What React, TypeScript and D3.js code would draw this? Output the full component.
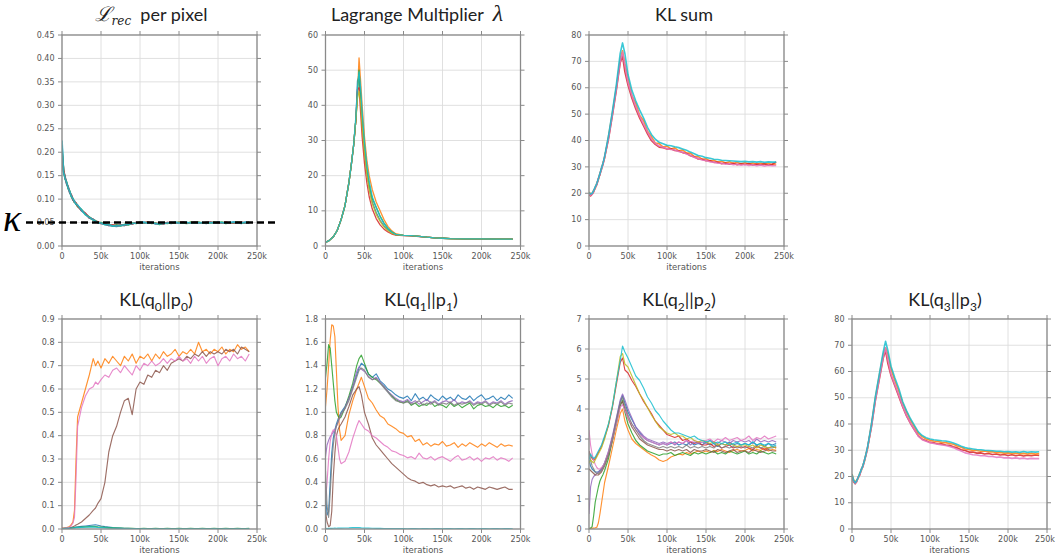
import React from 'react';
import * as d3 from 'd3';

// matplotlib default cycle
const COL = {
  blue: '#1f77b4', orange: '#ff7f0e', green: '#2ca02c', red: '#d62728', purple: '#9467bd',
  brown: '#8c564b', pink: '#e377c2', gray: '#7f7f7f', olive: '#bcbd22', cyan: '#17becf',
};

// iterations in thousands, shared by the noisy panels
const iters = [0, 2, 4, 6, 8, 10, 12, 14, 16, 18, 20,
  25, 30, 35, 40, 43, 46,
  50, 55, 60, 65, 70, 75, 80, 85, 90, 95,
  100, 105, 110, 115, 120, 125, 130, 135, 140, 145,
  150, 155, 160, 165, 170, 175, 180, 185, 190, 195,
  200, 205, 210, 215, 220, 225, 230, 235, 240];

// lagrange multiplier is smooth, own sampling
const lambdaIters = [0, 5, 10, 15, 20, 25, 30, 33, 36, 39, 41, 43, 45, 47, 50, 53, 56, 60, 65, 70, 75, 80, 85, 90,
  100, 110, 120, 130, 140, 150, 160, 180, 200, 220, 240];

const xTicks = [0, 50, 100, 150, 200, 250];
const xTickLabels = ['0', '50k', '100k', '150k', '200k', '250k'];

// ---- L_rec per pixel
const recBlue = [0.215, 0.158, 0.147, 0.132, 0.126, 0.113, 0.108, 0.098, 0.096, 0.089, 0.087,
  0.075, 0.069, 0.060, 0.057, 0.052, 0.050,
  0.048, 0.046, 0.044, 0.043, 0.042, 0.044, 0.044, 0.047, 0.047, 0.050,
  0.049, 0.051, 0.049, 0.050, 0.047, 0.048, 0.047, 0.050, 0.048, 0.051,
  0.049, 0.051, 0.050, 0.049, 0.051, 0.049, 0.050, 0.048, 0.051, 0.049,
  0.051, 0.049, 0.050, 0.049, 0.051, 0.050, 0.048, 0.051, 0.049];
const recGreen = [0.205, 0.162, 0.143, 0.136, 0.122, 0.117, 0.105, 0.101, 0.093, 0.091, 0.084,
  0.078, 0.067, 0.062, 0.055, 0.054, 0.050,
  0.050, 0.046, 0.046, 0.043, 0.045, 0.043, 0.046, 0.045, 0.049, 0.048,
  0.051, 0.049, 0.051, 0.048, 0.049, 0.046, 0.049, 0.048, 0.050, 0.049,
  0.051, 0.049, 0.048, 0.051, 0.049, 0.051, 0.049, 0.050, 0.049, 0.051,
  0.049, 0.051, 0.048, 0.050, 0.049, 0.051, 0.050, 0.049, 0.051];
const recRed = [0.200, 0.163, 0.146, 0.133, 0.125, 0.114, 0.109, 0.099, 0.094, 0.092, 0.085,
  0.076, 0.070, 0.060, 0.057, 0.052, 0.052,
  0.048, 0.048, 0.044, 0.045, 0.043, 0.045, 0.044, 0.047, 0.047, 0.050,
  0.050, 0.049, 0.051, 0.049, 0.048, 0.048, 0.047, 0.050, 0.050, 0.049,
  0.050, 0.051, 0.049, 0.049, 0.051, 0.050, 0.049, 0.050, 0.051, 0.049,
  0.050, 0.049, 0.051, 0.049, 0.050, 0.049, 0.051, 0.049, 0.050];
const recCyan = [0.225, 0.158, 0.144, 0.135, 0.123, 0.116, 0.106, 0.101, 0.094, 0.090, 0.087,
  0.077, 0.067, 0.061, 0.056, 0.053, 0.050,
  0.049, 0.046, 0.045, 0.043, 0.043, 0.044, 0.045, 0.046, 0.048, 0.049,
  0.050, 0.050, 0.049, 0.050, 0.048, 0.047, 0.048, 0.049, 0.050, 0.050,
  0.049, 0.050, 0.050, 0.049, 0.050, 0.050, 0.049, 0.050, 0.050, 0.049,
  0.050, 0.050, 0.049, 0.050, 0.051, 0.049, 0.050, 0.050, 0.049];
const kappa = 0.05;

// ---- Lagrange multiplier
const lamBlue = [1.0, 1.6, 2.6, 4.4, 7.5, 11.5, 18, 23, 28.5, 36, 47,
  48, 42, 35, 27, 21, 16.5,
  12.5, 9.5, 7.3, 5.7, 4.6, 3.8, 3.2,
  3.0, 2.95, 2.75, 2.5, 2.3, 2.2, 2.1,
  2.05, 2.0, 1.95, 1.95];
const lamOrange = [1.0, 1.6, 2.6, 4.4, 7.5, 11.5, 18, 23, 28.5, 36, 43,
  53.5, 47, 40, 31, 24.5, 20,
  16, 12.5, 10, 7.5, 5.6, 4.3, 3.5,
  3.0, 2.95, 2.75, 2.5, 2.3, 2.2, 2.1,
  2.05, 2.0, 1.95, 1.95];
const lamGreen = [1.0, 1.6, 2.6, 4.4, 7.5, 11.5, 18, 23, 28.5, 36, 44,
  50, 43, 36, 28, 22, 17.5,
  13.5, 11, 8.5, 6.5, 5, 4, 3.3,
  3.0, 2.95, 2.75, 2.5, 2.3, 2.2, 2.1,
  2.05, 2.0, 1.95, 1.95];
const lamRed = [1.0, 1.6, 2.6, 4.4, 7.5, 11.5, 18, 23, 28.5, 36, 44.5,
  45, 38, 31, 23.5, 18, 14,
  10.5, 7.8, 6, 4.8, 4, 3.4, 3.1,
  2.95, 2.9, 2.7, 2.5, 2.3, 2.2, 2.1,
  2.05, 2.0, 1.95, 1.95];
const lamOlive = [1.0, 1.6, 2.6, 4.4, 7.5, 11.5, 18, 23, 28.5, 36, 42,
  44, 41, 34, 26.5, 20.5, 16,
  12, 9, 7, 5.4, 4.4, 3.6, 3.2,
  3.0, 2.95, 2.75, 2.5, 2.3, 2.2, 2.1,
  2.05, 2.0, 1.95, 1.95];
const lamCyan = [1.0, 1.6, 2.6, 4.4, 7.5, 11.5, 18, 23, 28.5, 37, 45,
  49.5, 45, 38, 29.5, 23, 18.5,
  14, 11, 8.4, 6.4, 5, 4, 3.3,
  3.0, 2.95, 2.75, 2.5, 2.3, 2.2, 2.1,
  2.05, 2.0, 1.95, 1.95];

// ---- KL sum
const sumRed = [19.5, 19.0, 19.6, 20.5, 22.3, 23.2, 25.6, 27.0, 29.5, 31.0, 33.8,
  40.5, 49.5, 59, 69.5, 72, 66,
  61, 56, 52, 48.5, 45.5, 42.5, 40, 38.5, 37.5, 37.3,
  36.8, 36.9, 36.2, 36.0, 35.4, 35.1, 34.2, 33.8, 33.0, 32.9,
  32.3, 32.4, 31.7, 31.8, 31.2, 31.5, 31.0, 31.4, 30.8, 31.2,
  30.9, 31.3, 30.7, 31.1, 30.8, 31.2, 30.6, 31.0, 31.9];
const sumOrange = [20.5, 19.8, 19.9, 21.2, 21.8, 23.8, 25.1, 27.6, 29.0, 31.6, 33.3,
  41.5, 50.5, 60, 71, 74, 69,
  63.5, 57, 54, 49.5, 47.5, 43.5, 41.5, 39, 38.8, 37.5,
  37.9, 36.8, 37.2, 36.1, 36.4, 35.2, 35.2, 33.9, 33.9, 32.9,
  33.1, 32.2, 32.5, 31.8, 32.1, 31.5, 31.9, 31.3, 31.7, 31.2,
  31.6, 31.1, 31.5, 31.0, 31.4, 31.1, 31.3, 30.9, 31.1];
const sumPink = [19.8, 19.3, 19.7, 20.9, 22.1, 23.4, 25.4, 27.3, 29.1, 31.2, 33.4,
  40.8, 49.8, 59.5, 70, 73.5, 68.5,
  62, 57, 52.8, 49.2, 46.2, 43.2, 40.6, 38.9, 37.9, 37.4,
  37.0, 36.6, 36.4, 35.8, 35.6, 34.9, 34.4, 33.6, 33.2, 32.6,
  32.4, 31.9, 31.8, 31.4, 31.4, 31.0, 31.2, 30.8, 31.0, 30.6,
  30.9, 30.5, 30.8, 30.4, 30.7, 30.3, 30.6, 30.4, 30.5];
const sumCyan = [20.2, 19.7, 20.0, 21.0, 22.4, 23.7, 25.5, 27.5, 29.6, 31.5, 34.0,
  41.8, 51, 61, 73, 77, 73,
  65, 59, 55, 51.5, 48.5, 45, 42.3, 40.5, 39.3, 38.8,
  38.2, 38.0, 37.6, 37.3, 36.8, 36.3, 35.6, 35.0, 34.3, 34.0,
  33.5, 33.3, 32.9, 32.8, 32.5, 32.4, 32.3, 32.2, 32.1, 32.0,
  32.1, 31.9, 32.0, 31.8, 32.0, 31.7, 31.9, 31.8, 31.8];

// ---- KL(q0||p0)
const q0Blue = [0.002, 0.002, 0.002, 0.003, 0.003, 0.004, 0.005, 0.006, 0.007, 0.008, 0.009,
  0.011, 0.013, 0.015, 0.017, 0.018, 0.016,
  0.013, 0.010, 0.008, 0.006, 0.005, 0.004, 0.003, 0.003, 0.002, 0.002,
  0.002, 0.002, 0.001, 0.002, 0.002, 0.001, 0.002, 0.002, 0.001, 0.002,
  0.002, 0.001, 0.002, 0.002, 0.001, 0.002, 0.002, 0.001, 0.002, 0.002,
  0.001, 0.002, 0.002, 0.001, 0.002, 0.002, 0.001, 0.002, 0.002];
const q0Orange = [0.005, 0.004, 0.005, 0.006, 0.008, 0.012, 0.02, 0.03, 0.08, 0.30, 0.48,
  0.54, 0.60, 0.66, 0.73, 0.70, 0.72,
  0.69, 0.73, 0.71, 0.74, 0.72, 0.70, 0.74, 0.72, 0.75, 0.71,
  0.74, 0.73, 0.75, 0.72, 0.75, 0.73, 0.76, 0.74, 0.75, 0.77,
  0.74, 0.76, 0.75, 0.77, 0.75, 0.80, 0.76, 0.77, 0.75, 0.77,
  0.76, 0.78, 0.75, 0.77, 0.76, 0.79, 0.77, 0.78, 0.76];
const q0Green = [0.003, 0.003, 0.003, 0.004, 0.004, 0.005, 0.005, 0.006, 0.006, 0.007, 0.007,
  0.008, 0.009, 0.010, 0.011, 0.010, 0.009,
  0.008, 0.007, 0.006, 0.005, 0.004, 0.004, 0.003, 0.003, 0.003, 0.002,
  0.002, 0.003, 0.002, 0.002, 0.003, 0.002, 0.002, 0.003, 0.002, 0.002,
  0.003, 0.002, 0.002, 0.003, 0.002, 0.002, 0.003, 0.002, 0.002, 0.003,
  0.002, 0.002, 0.003, 0.002, 0.002, 0.003, 0.002, 0.002, 0.003];
const q0Brown = [0.003, 0.002, 0.003, 0.003, 0.004, 0.005, 0.007, 0.01, 0.013, 0.017, 0.02,
  0.03, 0.045, 0.06, 0.08, 0.09, 0.11,
  0.13, 0.20, 0.33, 0.40, 0.44, 0.50, 0.55, 0.56, 0.49, 0.60,
  0.63, 0.62, 0.66, 0.65, 0.68, 0.67, 0.70, 0.68, 0.71, 0.72,
  0.73, 0.72, 0.74, 0.73, 0.75, 0.74, 0.76, 0.74, 0.76, 0.75,
  0.76, 0.75, 0.77, 0.76, 0.77, 0.75, 0.78, 0.77, 0.76];
const q0Pink = [0.004, 0.003, 0.004, 0.005, 0.006, 0.009, 0.015, 0.025, 0.05, 0.22, 0.44,
  0.52, 0.57, 0.60, 0.61, 0.63, 0.62,
  0.64, 0.66, 0.65, 0.68, 0.69, 0.67, 0.70, 0.68, 0.66, 0.70,
  0.68, 0.71, 0.70, 0.72, 0.70, 0.71, 0.73, 0.71, 0.73, 0.72,
  0.74, 0.72, 0.73, 0.71, 0.74, 0.72, 0.74, 0.71, 0.73, 0.74,
  0.70, 0.73, 0.74, 0.72, 0.75, 0.73, 0.74, 0.72, 0.75];
const q0Cyan = [0.002, 0.002, 0.003, 0.003, 0.003, 0.004, 0.004, 0.005, 0.005, 0.006, 0.006,
  0.007, 0.008, 0.008, 0.009, 0.008, 0.007,
  0.006, 0.005, 0.004, 0.004, 0.003, 0.003, 0.002, 0.002, 0.002, 0.002,
  0.001, 0.002, 0.001, 0.001, 0.002, 0.001, 0.001, 0.002, 0.001, 0.001,
  0.002, 0.001, 0.001, 0.002, 0.001, 0.001, 0.002, 0.001, 0.001, 0.002,
  0.001, 0.001, 0.002, 0.001, 0.001, 0.002, 0.001, 0.001, 0.002];

// ---- KL(q1||p1)
const q1Blue = [0.30, 0.12, 0.15, 0.40, 0.65, 0.78, 0.85, 0.90, 0.94, 0.97, 1.00,
  1.05, 1.12, 1.22, 1.32, 1.38, 1.42,
  1.40, 1.33, 1.30, 1.33, 1.27, 1.24, 1.20, 1.18, 1.15, 1.13,
  1.12, 1.14, 1.10, 1.16, 1.11, 1.13, 1.10, 1.15, 1.12, 1.10,
  1.14, 1.11, 1.13, 1.10, 1.15, 1.12, 1.11, 1.14, 1.10, 1.13,
  1.15, 1.11, 1.12, 1.14, 1.10, 1.13, 1.11, 1.15, 1.12];
const q1Orange = [1.05, 1.20, 1.40, 1.62, 1.75, 1.74, 1.65, 1.35, 1.05, 0.85, 0.76,
  0.80, 0.98, 1.10, 1.20, 1.25, 1.30,
  1.22, 1.12, 1.08, 1.02, 0.97, 0.95, 0.90, 0.88, 0.86, 0.83,
  0.82, 0.79, 0.80, 0.75, 0.77, 0.72, 0.74, 0.71, 0.73, 0.72,
  0.75, 0.71, 0.72, 0.74, 0.70, 0.73, 0.71, 0.74, 0.72, 0.70,
  0.73, 0.71, 0.74, 0.72, 0.70, 0.73, 0.71, 0.72, 0.71];
const q1Green = [1.30, 1.42, 1.58, 1.55, 1.40, 1.25, 1.10, 1.00, 0.97, 0.95, 0.96,
  1.04, 1.14, 1.25, 1.40, 1.46, 1.49,
  1.42, 1.33, 1.30, 1.28, 1.25, 1.22, 1.18, 1.14, 1.11, 1.09,
  1.08, 1.10, 1.06, 1.08, 1.05, 1.07, 1.06, 1.09, 1.05, 1.07,
  1.06, 1.04, 1.08, 1.05, 1.07, 1.04, 1.06, 1.08, 1.03, 1.06,
  1.07, 1.05, 1.06, 1.04, 1.07, 1.05, 1.06, 1.04, 1.06];
const q1Purple = [0.62, 0.72, 0.76, 0.79, 0.81, 0.83, 0.85, 0.88, 0.91, 0.95, 0.98,
  1.04, 1.12, 1.22, 1.35, 1.39, 1.37,
  1.35, 1.31, 1.28, 1.30, 1.26, 1.22, 1.18, 1.15, 1.12, 1.10,
  1.09, 1.11, 1.08, 1.10, 1.07, 1.09, 1.11, 1.08, 1.10, 1.07,
  1.09, 1.10, 1.08, 1.11, 1.07, 1.09, 1.08, 1.10, 1.07, 1.09,
  1.08, 1.10, 1.07, 1.09, 1.08, 1.10, 1.07, 1.09, 1.10];
const q1Brown = [0.15, 0.06, 0.02, 0.03, 0.15, 0.45, 0.65, 0.80, 0.85, 0.88, 0.90,
  0.96, 1.05, 1.15, 1.20, 1.22, 1.15,
  1.00, 0.90, 0.78, 0.72, 0.68, 0.64, 0.60, 0.56, 0.53, 0.50,
  0.47, 0.44, 0.42, 0.41, 0.39, 0.40, 0.38, 0.37, 0.38, 0.36,
  0.37, 0.36, 0.37, 0.35, 0.36, 0.37, 0.35, 0.36, 0.34, 0.36,
  0.35, 0.34, 0.36, 0.35, 0.34, 0.35, 0.36, 0.34, 0.34];
const q1Pink = [0.25, 0.40, 0.60, 0.75, 0.82, 0.85, 0.84, 0.80, 0.70, 0.60, 0.56,
  0.58, 0.66, 0.78, 0.88, 0.93, 0.90,
  0.86, 0.84, 0.80, 0.78, 0.75, 0.72, 0.70, 0.67, 0.66, 0.64,
  0.63, 0.61, 0.62, 0.60, 0.65, 0.61, 0.60, 0.62, 0.59, 0.61,
  0.62, 0.60, 0.58, 0.61, 0.63, 0.59, 0.60, 0.62, 0.59, 0.61,
  0.58, 0.61, 0.60, 0.62, 0.59, 0.61, 0.60, 0.58, 0.61];
const q1Gray = [0.50, 0.20, 0.10, 0.30, 0.55, 0.72, 0.82, 0.88, 0.92, 0.96, 0.99,
  1.03, 1.10, 1.20, 1.30, 1.36, 1.38,
  1.36, 1.30, 1.28, 1.29, 1.25, 1.21, 1.17, 1.13, 1.10, 1.09,
  1.08, 1.09, 1.07, 1.08, 1.10, 1.06, 1.08, 1.07, 1.09, 1.06,
  1.08, 1.07, 1.09, 1.06, 1.08, 1.07, 1.08, 1.09, 1.06, 1.08,
  1.07, 1.09, 1.06, 1.08, 1.07, 1.09, 1.06, 1.08, 1.07];
const q1Cyan = [0.005, 0.004, 0.005, 0.006, 0.005, 0.006, 0.007, 0.006, 0.007, 0.008, 0.008,
  0.009, 0.010, 0.012, 0.013, 0.012, 0.010,
  0.008, 0.007, 0.006, 0.005, 0.005, 0.004, 0.004, 0.003, 0.003, 0.003,
  0.003, 0.002, 0.003, 0.003, 0.002, 0.003, 0.003, 0.002, 0.003, 0.003,
  0.002, 0.003, 0.003, 0.002, 0.003, 0.003, 0.002, 0.003, 0.003, 0.002,
  0.003, 0.003, 0.002, 0.003, 0.003, 0.002, 0.003, 0.003, 0.002];

// ---- KL(q2||p2)
const q2Blue = [2.3, 2.1, 2.0, 1.95, 1.9, 1.9, 1.9, 1.95, 2.0, 2.1, 2.2,
  2.55, 3.05, 3.65, 4.25, 4.45, 4.2,
  3.9, 3.65, 3.4, 3.2, 3.05, 2.95, 2.9, 2.85, 2.8, 2.85,
  2.8, 2.85, 2.9, 2.8, 2.85, 2.8, 2.9, 2.8, 2.85, 2.8,
  2.9, 2.8, 2.85, 2.75, 2.85, 2.8, 2.9, 2.8, 2.85, 2.8,
  2.85, 2.8, 2.9, 2.8, 2.85, 2.75, 2.85, 2.8, 2.85];
const q2Orange = [0.0, 0.02, 0.03, 0.03, 0.04, 0.06, 0.2, 0.5, 0.85, 1.2, 1.55,
  2.1, 2.7, 3.3, 3.85, 4.0, 3.6,
  3.3, 3.0, 2.85, 2.75, 2.65, 2.55, 2.47, 2.4, 2.3, 2.25,
  2.3, 2.4, 2.45, 2.5, 2.47, 2.55, 2.5, 2.55, 2.6, 2.55,
  2.6, 2.55, 2.62, 2.58, 2.65, 2.6, 2.55, 2.62, 2.65, 2.6,
  2.62, 2.68, 2.6, 2.65, 2.62, 2.7, 2.6, 2.65, 2.62];
const q2Green = [0.02, 0.03, 0.08, 0.45, 0.9, 1.15, 1.4, 1.6, 1.72, 1.82, 1.95,
  2.35, 2.95, 3.5, 4.1, 4.3, 3.9,
  3.5, 3.2, 2.95, 2.8, 2.7, 2.6, 2.55, 2.5, 2.45, 2.5,
  2.5, 2.55, 2.45, 2.5, 2.55, 2.5, 2.45, 2.55, 2.5, 2.55,
  2.5, 2.55, 2.6, 2.5, 2.55, 2.5, 2.6, 2.55, 2.5, 2.55,
  2.6, 2.5, 2.55, 2.5, 2.6, 2.55, 2.5, 2.55, 2.5];
const q2Red = [2.6, 2.45, 2.35, 2.3, 2.35, 2.45, 2.55, 2.65, 2.75, 2.9, 3.05,
  3.45, 4.05, 4.8, 5.55, 5.7, 5.3,
  5.2, 4.95, 4.75, 4.5, 4.25, 4.05, 3.85, 3.6, 3.45, 3.3,
  3.15, 3.1, 3.05, 3.1, 2.95, 3.0, 2.9, 2.85, 2.9, 2.8,
  2.8, 2.85, 2.75, 2.8, 2.7, 2.75, 2.8, 2.7, 2.75, 2.7,
  2.75, 2.7, 2.65, 2.75, 2.7, 2.65, 2.7, 2.75, 2.7];
const q2Purple = [0.5, 1.4, 1.65, 1.75, 1.8, 1.85, 1.9, 1.95, 2.0, 2.1, 2.2,
  2.6, 3.1, 3.7, 4.3, 4.5, 4.3,
  4.0, 3.7, 3.4, 3.25, 3.1, 3.0, 2.95, 2.9, 2.85, 2.9,
  2.85, 2.9, 2.8, 2.9, 2.85, 2.95, 2.8, 2.9, 2.85, 2.9,
  2.85, 2.95, 2.9, 2.85, 2.95, 2.9, 2.85, 2.95, 2.9, 2.95,
  2.9, 2.95, 2.85, 3.0, 2.9, 2.95, 2.9, 2.95, 2.9];
const q2Brown = [2.0, 1.95, 1.9, 1.85, 1.8, 1.8, 1.8, 1.85, 1.9, 2.0, 2.1,
  2.45, 2.95, 3.55, 4.15, 4.25, 4.0,
  3.7, 3.4, 3.2, 3.0, 2.9, 2.8, 2.75, 2.7, 2.65, 2.65,
  2.6, 2.65, 2.6, 2.65, 2.6, 2.65, 2.55, 2.65, 2.6, 2.6,
  2.65, 2.6, 2.55, 2.65, 2.6, 2.55, 2.6, 2.65, 2.55, 2.6,
  2.6, 2.55, 2.65, 2.6, 2.55, 2.6, 2.65, 2.6, 2.6];
const q2Pink = [3.3, 2.8, 2.5, 2.3, 2.15, 2.05, 2.0, 2.0, 2.05, 2.1, 2.2,
  2.55, 3.0, 3.5, 4.05, 4.15, 3.95,
  3.7, 3.5, 3.3, 3.15, 3.05, 2.95, 2.9, 2.85, 2.8, 2.85,
  2.8, 2.9, 2.85, 2.9, 2.85, 2.95, 2.9, 2.95, 2.9, 2.95,
  2.95, 3.0, 2.9, 3.0, 2.95, 3.05, 2.95, 3.0, 3.05, 2.95,
  3.0, 3.1, 2.95, 3.05, 3.0, 3.1, 3.0, 3.05, 3.1];
const q2Gray = [2.6, 2.3, 2.1, 2.0, 1.9, 1.85, 1.85, 1.9, 1.95, 2.05, 2.15,
  2.5, 3.0, 3.6, 4.2, 4.4, 4.1,
  3.8, 3.5, 3.3, 3.1, 2.95, 2.85, 2.8, 2.75, 2.7, 2.75,
  2.7, 2.75, 2.7, 2.75, 2.7, 2.8, 2.7, 2.75, 2.7, 2.75,
  2.7, 2.75, 2.7, 2.8, 2.7, 2.75, 2.7, 2.75, 2.7, 2.75,
  2.7, 2.75, 2.7, 2.8, 2.7, 2.75, 2.7, 2.7, 2.75];
const q2Olive = [2.2, 2.3, 2.25, 2.2, 2.3, 2.4, 2.5, 2.6, 2.7, 2.85, 3.0,
  3.5, 4.1, 4.9, 5.75, 5.85, 5.5,
  5.4, 5.1, 4.8, 4.5, 4.3, 4.05, 3.8, 3.6, 3.4, 3.3,
  3.2, 3.15, 3.2, 3.1, 3.1, 3.0, 3.05, 2.95, 2.9, 2.95,
  2.9, 2.85, 2.9, 2.8, 2.85, 2.8, 2.85, 2.8, 2.75, 2.8,
  2.8, 2.75, 2.8, 2.7, 2.8, 2.75, 2.7, 2.75, 2.7];
const q2Cyan = [2.3, 2.5, 2.4, 2.35, 2.4, 2.5, 2.6, 2.7, 2.8, 2.95, 3.1,
  3.5, 4.1, 4.9, 5.6, 6.1, 5.9,
  5.7, 5.4, 5.1, 4.95, 4.7, 4.4, 4.2, 3.95, 3.8, 3.6,
  3.45, 3.3, 3.2, 3.2, 3.15, 3.1, 3.05, 3.1, 3.0, 2.95,
  2.9, 2.95, 2.85, 2.9, 2.85, 2.9, 2.8, 2.85, 2.9, 2.8,
  2.85, 2.8, 2.9, 2.8, 2.85, 2.8, 2.85, 2.75, 2.8];

// ---- KL(q3||p3)
const q3Red = [20, 18, 17.2, 18, 19.8, 20.6, 22.8, 23.7, 26.3, 28.2, 31.2,
  39, 49, 57, 65, 68, 63,
  58.5, 54.5, 50.5, 46.5, 43, 40.2, 37.8, 35.5, 34.2, 33.6,
  33.0, 32.9, 32.4, 32.5, 32.0, 31.9, 31.3, 30.9, 30.2, 29.9,
  29.3, 29.3, 28.9, 29.0, 28.6, 28.8, 28.4, 28.6, 28.2, 28.4,
  28.0, 28.3, 27.9, 28.2, 27.8, 28.1, 27.9, 28.2, 28.0];
const q3Orange = [21, 18.8, 17.8, 18.6, 19.3, 21.3, 22.3, 24.3, 25.8, 28.8, 30.7,
  40, 50, 58.5, 66.5, 69, 66.5,
  61, 56.5, 52.5, 48, 44.5, 41.5, 39, 36.4, 35.2, 34.3,
  33.8, 33.5, 33.3, 33.0, 32.9, 32.6, 32.3, 31.6, 31.1, 30.5,
  30.3, 29.9, 29.9, 29.6, 29.7, 29.4, 29.4, 29.1, 29.2, 28.9,
  29.0, 28.8, 28.9, 28.7, 28.8, 28.6, 28.8, 28.6, 28.7];
const q3Pink = [20.3, 18.3, 17.4, 18.2, 19.6, 20.8, 22.6, 23.9, 26.1, 28.4, 30.9,
  39.2, 49.2, 57.5, 65.5, 69, 64.5,
  59, 55, 51, 46.8, 43.2, 40.3, 37.8, 35.4, 34.0, 33.4,
  32.9, 32.6, 32.3, 32.0, 31.8, 31.4, 31.0, 30.3, 29.7, 29.0,
  28.7, 28.3, 28.2, 27.9, 27.9, 27.6, 27.6, 27.3, 27.4, 27.1,
  27.2, 26.9, 27.1, 26.8, 27.0, 26.7, 26.9, 26.8, 26.8];
const q3Cyan = [20.8, 18.6, 17.6, 18.4, 19.7, 21.2, 22.7, 24.2, 26.2, 28.7, 31.3,
  40, 50.5, 59, 67.5, 71.5, 68,
  62, 57.5, 53.5, 48.5, 45, 42, 39.5, 37, 35.6, 34.8,
  34.3, 34.0, 33.8, 33.6, 33.5, 33.2, 32.8, 32.2, 31.5, 31.0,
  30.7, 30.5, 30.3, 30.2, 30.0, 29.9, 29.8, 29.6, 29.6, 29.4,
  29.5, 29.3, 29.4, 29.2, 29.5, 29.2, 29.4, 29.3, 29.4];

const W = 195;
const TOP1 = 35, H1 = 211;
const TOP2 = 319, H2 = 210;
const PAGE_W = 1055;

const panels = [
  { id: 'rec', left: 62, top: TOP1, h: H1, yMax: 0.45, titleX: 151, titleY: 21, lw: 1.7,
    yTicks: [0, 0.05, 0.1, 0.15, 0.2, 0.25, 0.3, 0.35, 0.4, 0.45], fmt: (v: number) => v.toFixed(2),
    xs: iters, series: [[recBlue, COL.blue], [recGreen, COL.green], [recRed, COL.red], [recCyan, COL.cyan]] },
  { id: 'lam', left: 325.5, top: TOP1, h: H1, yMax: 60, titleX: 417, titleY: 21, lw: 1.3,
    yTicks: [0, 10, 20, 30, 40, 50, 60], fmt: (v: number) => String(v),
    xs: lambdaIters, series: [[lamBlue, COL.blue], [lamOrange, COL.orange], [lamGreen, COL.green], [lamRed, COL.red], [lamOlive, COL.olive], [lamCyan, COL.cyan]] },
  { id: 'sum', left: 589, top: TOP1, h: H1, yMax: 80, titleX: 684, titleY: 21, lw: 1.6,
    yTicks: [0, 10, 20, 30, 40, 50, 60, 70, 80], fmt: (v: number) => String(v),
    xs: iters, series: [[sumOrange, COL.orange], [sumRed, COL.red], [sumPink, COL.pink], [sumCyan, COL.cyan]] },
  { id: 'q0', left: 62, top: TOP2, h: H2, yMax: 0.9, titleX: 156, titleY: 306, sub: '0', lw: 1.15,
    yTicks: [0, 0.1, 0.2, 0.3, 0.4, 0.5, 0.6, 0.7, 0.8, 0.9], fmt: (v: number) => v.toFixed(1),
    xs: iters, series: [[q0Blue, COL.blue], [q0Orange, COL.orange], [q0Green, COL.green], [q0Brown, COL.brown], [q0Pink, COL.pink], [q0Cyan, COL.cyan]] },
  { id: 'q1', left: 325.5, top: TOP2, h: H2, yMax: 1.8, titleX: 421, titleY: 306, sub: '1', lw: 1.15,
    yTicks: [0, 0.2, 0.4, 0.6, 0.8, 1.0, 1.2, 1.4, 1.6, 1.8], fmt: (v: number) => v.toFixed(1),
    xs: iters, series: [[q1Blue, COL.blue], [q1Orange, COL.orange], [q1Green, COL.green], [q1Purple, COL.purple], [q1Brown, COL.brown], [q1Pink, COL.pink], [q1Gray, COL.gray], [q1Cyan, COL.cyan]] },
  { id: 'q2', left: 589, top: TOP2, h: H2, yMax: 7, titleX: 679, titleY: 306, sub: '2', lw: 1.15,
    yTicks: [0, 1, 2, 3, 4, 5, 6, 7], fmt: (v: number) => String(v),
    xs: iters, series: [[q2Blue, COL.blue], [q2Orange, COL.orange], [q2Green, COL.green], [q2Red, COL.red], [q2Purple, COL.purple], [q2Brown, COL.brown], [q2Pink, COL.pink], [q2Gray, COL.gray], [q2Olive, COL.olive], [q2Cyan, COL.cyan]] },
  { id: 'q3', left: 852, top: TOP2, h: H2, yMax: 80, titleX: 945, titleY: 306, sub: '3', lw: 1.6,
    yTicks: [0, 10, 20, 30, 40, 50, 60, 70, 80], fmt: (v: number) => String(v),
    xs: iters, series: [[q3Red, COL.red], [q3Orange, COL.orange], [q3Pink, COL.pink], [q3Cyan, COL.cyan]] },
];

const TICK_FONT = 'DejaVu Sans, sans-serif';
const TITLE_FONT = 'Lato, Open Sans, sans-serif';

function Title({ p }: any) {
  if (p.id === 'rec') {
    return (
      <text x={p.titleX} y={p.titleY} textAnchor="middle" fill="#222">
        <tspan fontFamily="DejaVu Serif" fontStyle="italic" fontSize={20}>ℒ</tspan>
        <tspan fontFamily="DejaVu Serif" fontStyle="italic" fontSize={12} dy={4}>rec</tspan>
        <tspan fontFamily={TITLE_FONT} fontSize={18} dy={-4}>{'\u00a0\u00a0per pixel'}</tspan>
      </text>
    );
  }
  if (p.id === 'lam') {
    return (
      <text x={p.titleX} y={p.titleY} textAnchor="middle" fill="#222">
        <tspan fontFamily={TITLE_FONT} fontSize={18}>{'Lagrange Multiplier\u00a0\u00a0'}</tspan>
        <tspan fontFamily="Liberation Serif" fontStyle="italic" fontSize={24}>λ</tspan>
      </text>
    );
  }
  if (p.id === 'sum') {
    return <text x={p.titleX} y={p.titleY} textAnchor="middle" fill="#222" fontFamily={TITLE_FONT} fontSize={18}>KL sum</text>;
  }
  return (
    <text x={p.titleX} y={p.titleY} textAnchor="middle" fill="#222" fontFamily={TITLE_FONT} fontSize={18}>
      KL(q<tspan fontSize={12} dy={5}>{p.sub}</tspan><tspan dy={-5}>||p</tspan><tspan fontSize={12} dy={5}>{p.sub}</tspan><tspan dy={-5}>)</tspan>
    </text>
  );
}

function Panel({ p }: any) {
  const x = d3.scaleLinear().domain([0, 250]).range([p.left, p.left + W]);
  const y = d3.scaleLinear().domain([0, p.yMax]).range([p.top + p.h, p.top]);
  const bottom = p.top + p.h;
  const right = p.left + W;
  const clipId = `clip-${p.id}`;
  const spine = '#8a8a8a';
  return (
    <g>
      <defs>
        <clipPath id={clipId}><rect x={p.left} y={p.top} width={W} height={p.h} /></clipPath>
      </defs>
      {/* grid */}
      {xTicks.map(t => (
        <line key={'gx' + t} x1={x(t)} x2={x(t)} y1={p.top} y2={bottom} stroke="#dcdcdc" strokeWidth={0.9} />
      ))}
      {p.yTicks.map((t: number) => (
        <line key={'gy' + t} x1={p.left} x2={right} y1={y(t)} y2={y(t)} stroke="#dcdcdc" strokeWidth={0.9} />
      ))}
      {/* series */}
      <g clipPath={`url(#${clipId})`}>
        {p.series.map(([vals, color]: any, i: number) => {
          const n = Math.min(vals.length, p.xs.length);
          const line = d3.line<number>().x((_, j) => x(p.xs[j])).y(d => y(d));
          return <path key={i} d={line(vals.slice(0, n)) || ''} fill="none" stroke={color} strokeWidth={p.lw} strokeOpacity={0.85} strokeLinejoin="round" />;
        })}
      </g>
      {/* frame */}
      <rect x={p.left} y={p.top} width={W} height={p.h} fill="none" stroke={spine} strokeWidth={1.3} />
      {xTicks.map((t, i) => {
        // keep the last label of the rightmost panel inside the page
        const lx = Math.min(x(t), PAGE_W - 10);
        return (
          <g key={'xt' + t}>
            <line x1={x(t)} x2={x(t)} y1={bottom} y2={bottom + 4} stroke={spine} strokeWidth={1} />
            <line x1={x(t)} x2={x(t)} y1={p.top} y2={p.top - 4} stroke={spine} strokeWidth={1} />
            <text x={lx} y={bottom + 12.5} textAnchor="middle" fontFamily={TICK_FONT} fontSize={8} fill="#555">{xTickLabels[i]}</text>
          </g>
        );
      })}
      {p.yTicks.map((t: number) => (
        <g key={'yt' + t}>
          <line x1={p.left - 4} x2={p.left} y1={y(t)} y2={y(t)} stroke={spine} strokeWidth={1} />
          <line x1={right} x2={right + 4} y1={y(t)} y2={y(t)} stroke={spine} strokeWidth={1} />
          <text x={p.left - 7.5} y={y(t)} dy="0.33em" textAnchor="end" fontFamily={TICK_FONT} fontSize={8} fill="#555">{p.fmt(t)}</text>
        </g>
      ))}
      <text x={(p.left + right) / 2} y={bottom + 24} textAnchor="middle" fontFamily={TICK_FONT} fontSize={8.5} fill="#555">iterations</text>
      <Title p={p} />
      {p.id === 'rec' && (
        <g>
          <line x1={p.left - 36} x2={right + 21} y1={y(kappa)} y2={y(kappa)} stroke="#000" strokeWidth={2.4} strokeDasharray="7,4" />
          <text x={3} y={y(kappa) + 8} fontFamily="Liberation Serif" fontStyle="italic" fontSize={38} fill="#000">κ</text>
        </g>
      )}
    </g>
  );
}

export default function App() {
  return (
    <svg width={PAGE_W} height={558} style={{ position: 'absolute', left: 0, top: 0, background: '#fff' }}>
      <rect width={PAGE_W} height={558} fill="#fff" />
      {panels.map(p => <Panel key={p.id} p={p} />)}
    </svg>
  );
}
